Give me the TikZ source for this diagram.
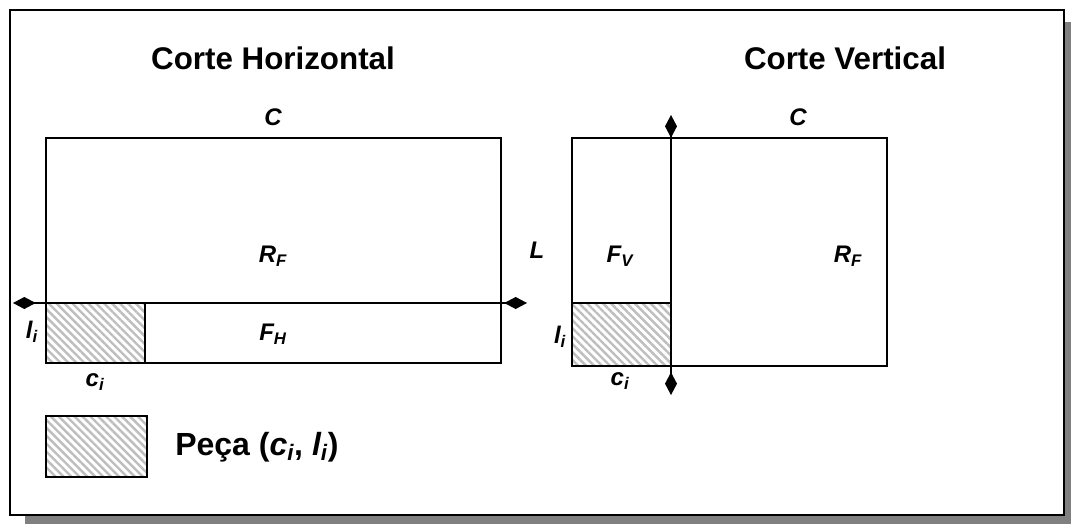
\documentclass[tikz,border=0pt]{standalone}
\usepackage{fontspec}
\setmainfont{Liberation Sans}
\usepackage{tikz}
\usetikzlibrary{arrows.meta,patterns.meta,positioning}
\definecolor{Ink}{HTML}{000000}
\definecolor{ShadowGray}{HTML}{808080}
\definecolor{HatchGray}{HTML}{BEBEBE}
\tikzset{
  frameBox/.style={draw=Ink,line width=2pt,fill=white},
  stockBox/.style={draw=Ink,line width=1.8pt},
  pieceBox/.style={draw=Ink,line width=1.8pt,
    pattern={Lines[angle=-45,distance=4.2pt,line width=1.8pt]},pattern color=HatchGray},
  cutLine/.style={{Diamond[length=17pt,width=9pt]}-{Diamond[length=17pt,width=9pt]},
    draw=Ink,line width=1.9pt},
  titleText/.style={font=\bfseries\fontsize{23.5}{28}\selectfont,inner sep=0pt},
  dimText/.style={font=\bfseries\itshape\fontsize{18}{21}\selectfont,inner sep=0pt},
  legendText/.style={font=\bfseries\fontsize{24}{28}\selectfont,inner sep=0pt,anchor=west}
}
\begin{document}
\begin{tikzpicture}[x=0.75pt,y=-0.75pt]
  \useasboundingbox (0,0) rectangle (1071,524);
  % frame with shadow
  \fill[ShadowGray] (25,22) rectangle (1071,524);
  \draw[frameBox] (10,10) rectangle (1064,515);
  % titles
  \node[titleText] (th) at (273,58) {Corte Horizontal};
  \node[titleText] (tv) at (845,58) {Corte Vertical};
  % horizontal cut
  \draw[pieceBox] (46,303) rectangle (145,363);
  \draw[stockBox] (46,138) rectangle (501,363);
  \coordinate (hcutA) at (13,303);
  \coordinate (hcutB) at (527,303);
  \draw[cutLine] (hcutA) -- (hcutB);
  \node[dimText] (hC) at (273,117) {C};
  \node[dimText] (hL) at (537,250) {L};
  \node[dimText] (hRF) at (273,256) {R\textsubscript{F}};
  \node[dimText] (hFH) at (273,334) {F\textsubscript{H}};
  \node[dimText] (hli) at (32,332) {l\textsubscript{i}};
  \node[dimText] (hci) at (95,382) {c\textsubscript{i}};
  % vertical cut
  \draw[pieceBox] (572,303) rectangle (671,366);
  \draw[stockBox] (572,138) rectangle (887,366);
  \coordinate (vcutA) at (671,115);
  \coordinate (vcutB) at (671,395);
  \draw[cutLine] (vcutA) -- (vcutB);
  \node[dimText] (vC) at (798,117) {C};
  \node[dimText] (vFV) at (620,256) {F\textsubscript{V}};
  \node[dimText] (vRF) at (848,256) {R\textsubscript{F}};
  \node[dimText] (vli) at (560,337) {l\textsubscript{i}};
  \node[dimText] (vci) at (620,381) {c\textsubscript{i}};
  % legend
  \draw[pieceBox] (46,416) rectangle (147,477);
  \node[legendText] (leg) at (175,447) {Peça (\textit{c\textsubscript{i}}, \textit{l\textsubscript{i}})};
\end{tikzpicture}
\end{document}
